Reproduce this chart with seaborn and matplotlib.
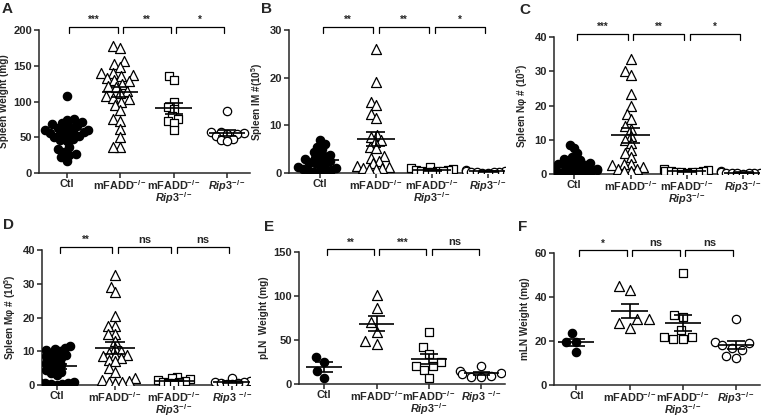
import warnings
import numpy as np
import pandas as pd
import matplotlib
matplotlib.use("Agg")
import matplotlib.pyplot as plt
import seaborn as sns

warnings.filterwarnings("ignore")

# group order and tick labels
groups = ["Ctl", "mFADD", "DKO", "Rip3"]
labels_tight = ["Ctl", "mFADD$^{-/-}$", "mFADD$^{-/-}$\n$\\mathit{Rip3}^{-/-}$", "$\\mathit{Rip3}^{-/-}$"]
labels_space = ["Ctl", "mFADD$^{-/-}$", "mFADD$^{-/-}$\n$\\mathit{Rip3}^{-/-}$", "$\\mathit{Rip3}\\ ^{-/-}$"]

# A - spleen weight (mg)
spleen_weight = [
    [107, 76, 74, 72, 70, 68, 66, 65, 63, 62, 60, 60, 58, 57, 56, 55, 54, 52, 50, 48,
     46, 45, 36, 33, 30, 27, 25, 22, 17],
    [177, 175, 157, 153, 148, 140, 140, 137, 135, 133, 130, 128, 125, 122, 120, 115,
     112, 108, 105, 103, 100, 95, 88, 75, 73, 62, 50, 37, 37],
    [135, 130, 100, 92, 90, 80, 76, 73, 70, 60],
    [87, 58, 57, 56, 55, 54, 52, 48, 46, 45],
]
# B - spleen IM # (10^5)
spleen_im = [
    [7.0, 6.0, 5.5, 5.0, 4.5, 4.0, 3.8, 3.5, 3.2, 3.0, 2.8, 2.5, 2.2, 2.0, 1.8, 1.5,
     1.2, 1.0, 0.8, 0.6, 0.5, 0.4, 0.3, 0.2],
    [26, 19, 15, 14.2, 12.3, 11.5, 8, 7.5, 7, 6.5, 5.5, 5.2, 3.5, 3.2, 2.5, 2, 1.5,
     1.2, 1, 1, 0.8, 0.8],
    [1.2, 1.0, 0.9, 0.7, 0.6, 0.5, 0.4, 0.4, 0.3, 0.2],
    [0.6, 0.5, 0.5, 0.4, 0.3, 0.3, 0.2, 0.2, 0.1, 0.1],
]
# C - spleen neutrophils # (10^5)
spleen_nphi = [
    [8.5, 7.5, 6.0, 5.0, 4.5, 4.0, 3.8, 3.5, 3.2, 3.0, 2.8, 2.5, 2.3, 2.0, 1.8, 1.6,
     1.4, 1.2, 1.0, 0.8, 0.7, 0.6, 0.5, 0.4, 0.3, 0.2],
    [33.5, 30, 29, 23.5, 20, 17.5, 16, 14, 13, 11, 10, 9, 7, 6, 5, 3, 3, 2.5, 2, 1.5,
     1.5, 1, 1],
    [1.5, 1.2, 1.0, 0.9, 0.8, 0.7, 0.6, 0.5, 0.5, 0.4],
    [0.8, 0.6, 0.5, 0.4, 0.4, 0.3, 0.3, 0.2, 0.2, 0.1],
]
# D - spleen macrophages # (10^5)
spleen_mphi = [
    [11.5, 11.0, 10.8, 10.5, 10.0, 9.5, 9.0, 8.8, 8.5, 8.0, 7.5, 7.0, 6.5, 6.0, 5.5,
     5.0, 4.5, 4.0, 3.5, 3.0, 1.5, 1.0, 0.8, 0.6, 0.5, 0.3, 0.2, 0.1],
    [32.5, 29, 27.5, 20.5, 17.5, 17.5, 15, 15, 13, 11, 10, 9.5, 9, 9, 8.5, 8, 7.5, 7,
     5, 4, 2, 1.5, 1.2, 1.0, 0.8, 0.5],
    [2.5, 2.0, 1.8, 1.5, 1.2, 1.0, 0.8, 0.6, 0.5],
    [2.0, 1.2, 1.0, 0.8, 0.6, 0.5, 0.4, 0.3],
]
# E - pLN weight (mg)
pln_weight = [
    [31, 25, 15, 7],
    [101, 86, 70, 59, 46, 49],
    [59, 42, 34, 25, 21, 21, 16, 7],
    [21, 15, 13, 11, 9, 8, 8],
]
# F - mLN weight (mg)
mln_weight = [
    [23.5, 19.5, 19.5, 15],
    [45, 43, 30, 30, 28, 26],
    [51, 32, 31, 25, 22, 22, 21, 21],
    [30, 19.5, 19, 18, 17, 16, 13, 12.5],
]

sns.set_style("ticks")
plt.rcParams["font.family"] = ["Liberation Sans", "DejaVu Sans"]
plt.rcParams["font.weight"] = "bold"
plt.rcParams["mathtext.fontset"] = "custom"
plt.rcParams["mathtext.rm"] = "Liberation Sans:bold"
plt.rcParams["mathtext.bf"] = "Liberation Sans:bold"
plt.rcParams["mathtext.it"] = "Liberation Sans:italic:bold"

W, H = 763, 418
fig = plt.figure(figsize=(W / 100, H / 100), dpi=100)

# marker style per group: (marker, face colour, size)
styles = [("o", "black", 6.0), ("^", "white", 7.2), ("s", "white", 5.6), ("o", "white", 6.0)]
swarm_sets = []


def draw_panel(letter, values, ylabel, top, step, sig, box, xlim, xlabels, letter_xy,
               swarm_scale):
    x0, y_top, x1, y_bot = box
    ax = fig.add_axes([x0 / W, 1 - y_bot / H, (x1 - x0) / W, (y_bot - y_top) / H])
    df = pd.DataFrame({
        "group": np.repeat(groups, [len(v) for v in values]),
        "value": np.concatenate(values),
    })
    # swarm laid out with smaller points so dense groups overlap like the original
    for g, (mk, fc, sz) in zip(groups, styles):
        n0 = len(ax.collections)
        sns.swarmplot(data=df[df["group"] == g], x="group", y="value", order=groups,
                      marker=mk, color=fc, edgecolor="black", linewidth=0.9,
                      size=sz * swarm_scale, ax=ax, zorder=3)
        for coll in ax.collections[n0:]:
            if len(coll.get_offsets()) > 0:
                swarm_sets.append((coll, sz))
    # mean +/- SEM
    for i, v in enumerate(values):
        v = np.asarray(v, dtype=float)
        m = v.mean()
        se = v.std(ddof=1) / np.sqrt(len(v))
        ax.hlines(m, i - 0.34, i + 0.34, color="black", lw=1.2, zorder=5)
        ax.vlines(i, m - se, m + se, color="black", lw=1.2, zorder=5)
        ax.hlines([m - se, m + se], i - 0.17, i + 0.17, color="black", lw=1.2, zorder=5)
    ax.set_xlim(*xlim)
    ax.set_ylim(0, top)
    ax.set_yticks(np.arange(0, top + 0.001, step))
    ax.set_xticks(range(4))
    ax.set_xticklabels(xlabels, fontsize=7.8, fontweight="bold", linespacing=0.78)
    ax.tick_params(axis="y", labelsize=8, length=3.5, width=1.1, pad=1.5)
    ax.tick_params(axis="x", length=3.5, width=1.1, pad=0.5)
    ax.set_xlabel("")
    ax.set_ylabel(ylabel, fontsize=7.2, fontweight="bold", labelpad=3)
    for lab in ax.get_yticklabels():
        lab.set_fontweight("bold")
    sns.despine(ax=ax)
    for s in ["left", "bottom"]:
        ax.spines[s].set_linewidth(1.1)
    # significance brackets
    h = top * 0.022
    for i, txt in enumerate(sig):
        a, b = i + 0.05, i + 0.95
        ax.plot([a, a, b, b], [top - h, top + h, top + h, top - h], color="black",
                lw=0.9, clip_on=False, zorder=6)
        fs = 8 if txt == "ns" else 7
        ax.text((a + b) / 2, top + h * 1.6, txt, ha="center", va="bottom",
                fontsize=fs, fontweight="bold", clip_on=False)
    fig.text(letter_xy[0] / W, 1 - letter_xy[1] / H, letter, fontsize=11,
             fontweight="bold", va="center", ha="left")
    return ax


draw_panel("A", spleen_weight, "Spleen Weight (mg)", 200, 50, ["***", "**", "*"],
           (39, 30, 250, 173), (-0.52, 3.43), labels_tight, (2, 9), 0.6)
draw_panel("B", spleen_im, "Spleen IM #(10$^5$)", 30, 10, ["**", "**", "*"],
           (289, 30, 505, 173), (-0.55, 3.3), labels_tight, (261, 9), 0.5)
draw_panel("C", spleen_nphi, "Spleen N\u03c6 # (10$^5$)", 40, 10, ["***", "**", "*"],
           (554, 37, 760, 174), (-0.36, 3.3), labels_tight, (519, 10), 0.5)
draw_panel("D", spleen_mphi, "Spleen M\u03c6 # (10$^5$)", 40, 10, ["**", "ns", "ns"],
           (42, 250, 250, 385), (-0.25, 3.3), labels_space, (3, 225), 0.52)
draw_panel("E", pln_weight, "pLN  Weight (mg)", 150, 50, ["**", "***", "ns"],
           (299, 252, 505, 384), (-0.48, 3.45), labels_space, (264, 227), 1.0)
draw_panel("F", mln_weight, "mLN Weight (mg)", 60, 20, ["*", "ns", "ns"],
           (554, 253, 760, 385), (-0.42, 3.45), labels_tight, (518, 227), 1.0)

# lay out the swarms once, then freeze positions and restore full marker size
fig.canvas.draw()
for coll, sz in swarm_sets:
    if "draw" in coll.__dict__:
        del coll.draw
    coll.set_sizes([sz ** 2])

fig.savefig("out.png", dpi=100)
